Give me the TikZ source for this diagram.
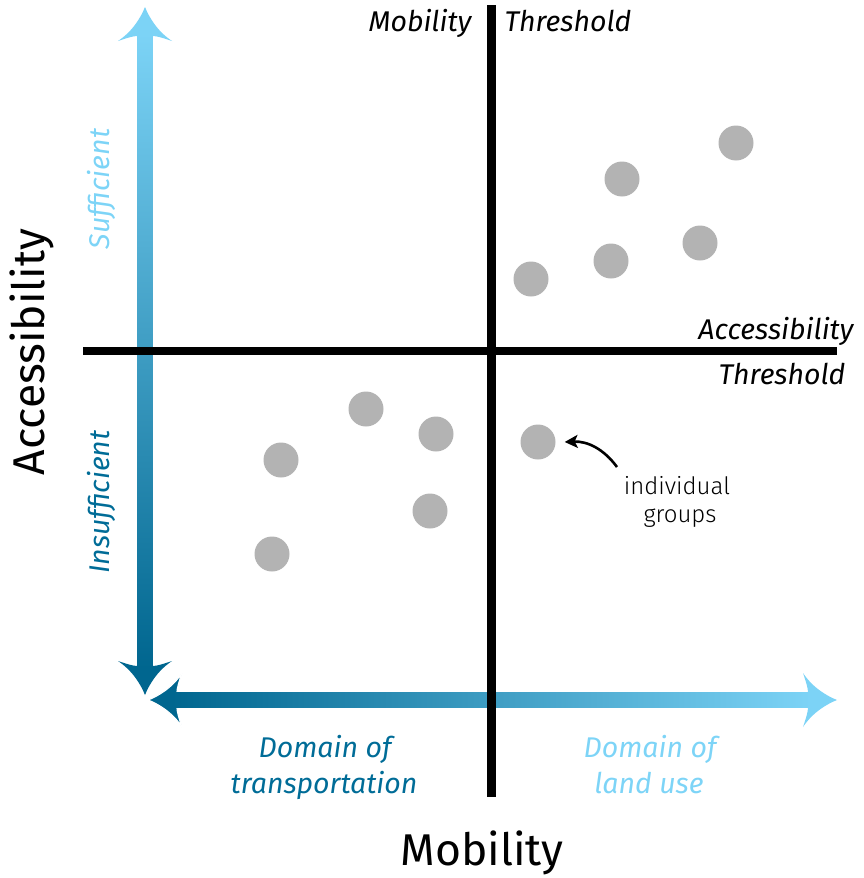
\documentclass[tikz,border=0pt]{standalone}
\usepackage{fontspec}
\setmainfont{Fira Sans}
\newfontfamily\lightfont{Fira Sans Light}
\usetikzlibrary{arrows.meta}
\definecolor{lightb}{HTML}{7CD3F6}
\definecolor{midb}{HTML}{0092C5}
\definecolor{darkb}{HTML}{00668F}
\definecolor{txtdark}{HTML}{006C97}
\definecolor{txtlight}{HTML}{7DD4F7}
\definecolor{dotgray}{HTML}{B3B3B3}
\tikzset{
  dot/.style={circle,fill=dotgray,minimum size=35pt,inner sep=0pt},
  lbl/.style={font=\fontsize{28.5}{32}\selectfont\itshape,anchor=base,inner sep=0pt},
  big/.style={font=\fontsize{44.5}{50}\selectfont,anchor=base,inner sep=0pt},
  thresh/.style={line width=8.5pt},
  headpath/.pic={\fill[pic actions] (0,0) .. controls (-10,-4) and (-24,-12) .. (-34,-27) .. controls (-31,-18) and (-29,-12) .. (-29,-7.5) -- (-29,7.5) .. controls (-29,12) and (-31,18) .. (-34,27) .. controls (-24,12) and (-10,4) .. (0,0) -- cycle;}
}
\begin{document}
\begin{tikzpicture}[x=1pt,y=-1pt]
\useasboundingbox (0,0) rectangle (864,878);
% vertical gradient arrow
\shade[top color=lightb,middle color=midb,bottom color=darkb] (137.5,34) rectangle (152.5,668);
\pic[fill=lightb,rotate=90] at (145,7) {headpath};
\pic[fill=darkb,rotate=-90] at (145,695) {headpath};
% horizontal gradient arrow
\pic[fill=darkb,draw=white,line width=1.2pt,rotate=180] at (148,700) {headpath};
\shade[left color=darkb,middle color=midb,right color=lightb] (172,692.5) rectangle (810,707.5);
\pic[fill=lightb] at (837,700) {headpath};
% threshold lines
\coordinate (vt) at (491.5,5);
\coordinate (vb) at (491.5,797);
\coordinate (hl) at (83,351);
\coordinate (hr) at (837,351);
\draw[thresh] (vt) -- (vb);
\draw[thresh] (hl) -- (hr);
% dots
\node[dot] (d1) at (736,143) {};
\node[dot] (d2) at (622,179) {};
\node[dot] (d3) at (700,243) {};
\node[dot] (d4) at (611,261) {};
\node[dot] (d5) at (531,279) {};
\node[dot] (d6) at (366,409) {};
\node[dot] (d7) at (436,434) {};
\node[dot] (d8) at (281,460) {};
\node[dot] (d9) at (430,511) {};
\node[dot] (d10) at (272,554) {};
\node[dot] (d11) at (538,442) {};
% labels
\node[lbl] (mt) at (420,31) {Mobility};
\node[lbl] (tt) at (568,31) {Threshold};
\node[lbl] (at) at (776,339) {Accessibility};
\node[lbl] (th) at (782,384) {Threshold};
\node[lbl,text=txtdark] (dt1) at (325,757) {Domain of};
\node[lbl,text=txtdark] (dt2) at (324,793) {transportation};
\node[lbl,text=txtlight] (dl1) at (650,757) {Domain of};
\node[lbl,text=txtlight] (dl2) at (649,793) {land use};
\node[lbl,text=txtlight,rotate=90] (suf) at (109,189) {Sufficient};
\node[lbl,text=txtdark,rotate=90] (insuf) at (109,502) {Insufficient};
\node[big] (mob) at (482,865) {Mobility};
\node[big,rotate=90] (acc) at (44,352) {Accessibility};
% individual groups
\node[font=\fontsize{24}{28}\selectfont\lightfont,anchor=base,inner sep=0pt] (ig1) at (677,494) {individual};
\node[font=\fontsize{24}{28}\selectfont\lightfont,anchor=base,inner sep=0pt] (ig2) at (680,522) {groups};
\coordinate (igs) at (617,467);
\draw[line width=2.6pt,-{Stealth[length=13pt,width=13pt,inset=3pt]}] (igs) to[bend right=28] ([xshift=9pt]d11.east);
\end{tikzpicture}
\end{document}
